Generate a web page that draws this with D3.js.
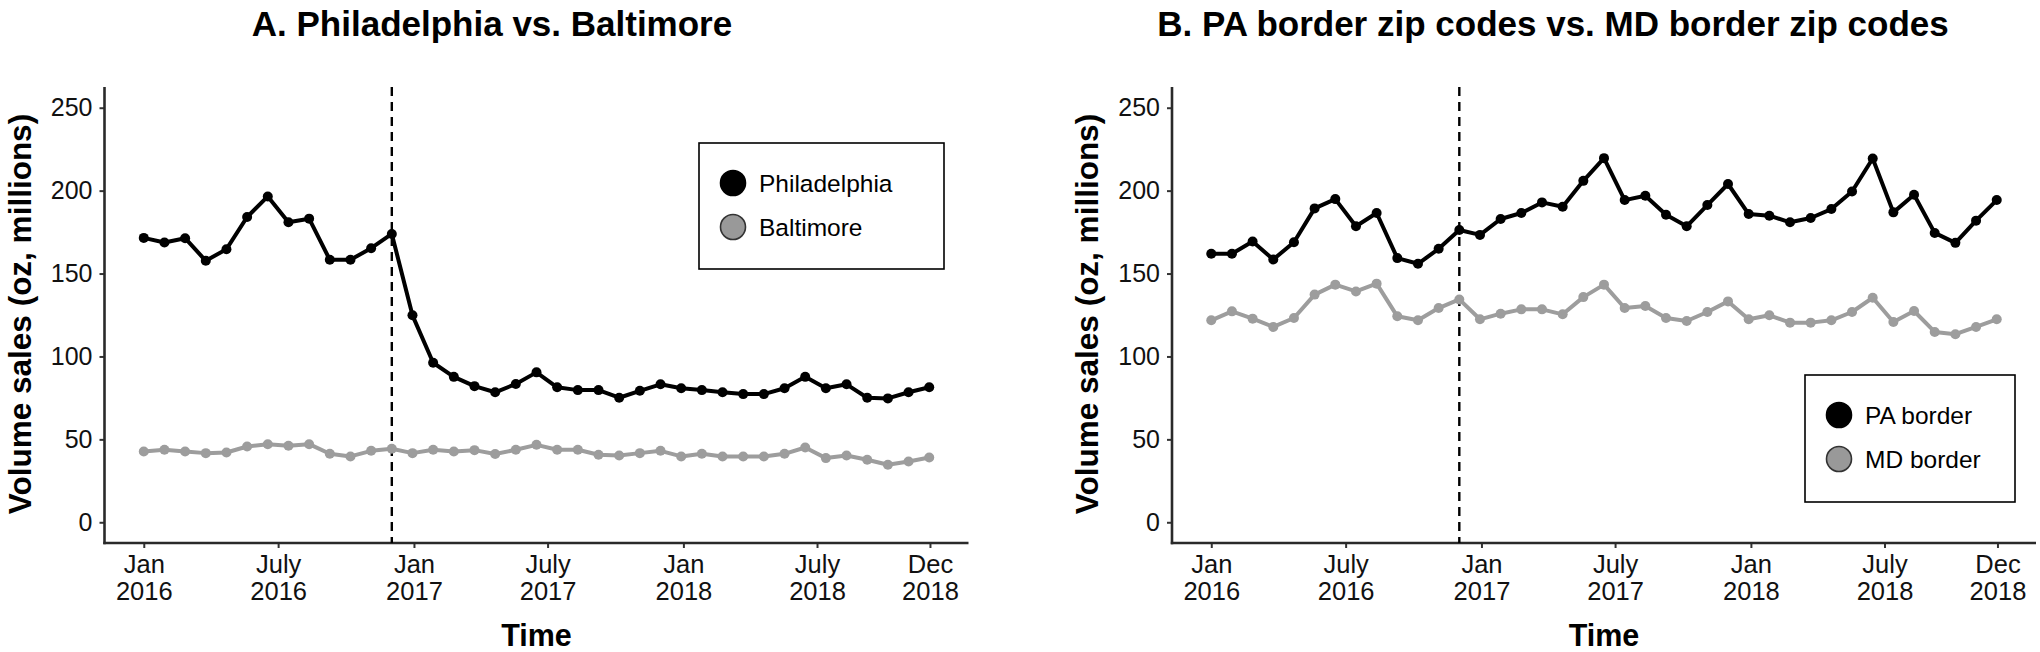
<!DOCTYPE html>
<html>
<head>
<meta charset="utf-8">
<script src="https://cdn.jsdelivr.net/npm/d3@7"></script>
<style>
  html, body { margin: 0; padding: 0; background: #ffffff; }
  svg { display: block; }
  text { font-family: "Liberation Sans", Arial, sans-serif; }
</style>
</head>
<body>
<svg id="chart" width="2040" height="652"></svg>
<script>
// ---------- DATA ----------
const periodDates = [
  "2016-01-01","2016-01-29","2016-02-26","2016-03-25","2016-04-22","2016-05-20","2016-06-17",
  "2016-07-15","2016-08-12","2016-09-09","2016-10-07","2016-11-04","2016-12-02","2016-12-30",
  "2017-01-27","2017-02-24","2017-03-24","2017-04-21","2017-05-19","2017-06-16","2017-07-14",
  "2017-08-11","2017-09-08","2017-10-06","2017-11-03","2017-12-01","2017-12-29","2018-01-26",
  "2018-02-23","2018-03-23","2018-04-20","2018-05-18","2018-06-15","2018-07-13","2018-08-10",
  "2018-09-07","2018-10-05","2018-11-02","2018-11-30"
];
const philadelphia = [171.5,168.7,171.3,157.7,164.7,184.1,196.5,180.9,183.1,158.3,158.3,165.3,173.9,
  124.8,96.2,87.7,82.1,78.4,83.4,90.4,81.4,79.7,79.7,75.1,79.3,83.2,80.8,79.7,78.4,77.3,77.3,80.8,
  87.7,80.8,83.2,75.1,74.7,78.4,81.4];
const baltimore = [42.7,43.7,42.7,41.7,42.1,45.7,47.1,46.1,47.1,41.3,39.7,43.1,44.3,
  41.7,43.7,42.7,43.5,41.2,43.7,46.7,43.7,43.7,40.7,40.3,41.7,43.1,39.7,41.3,39.7,39.7,39.7,41.3,
  45.1,38.7,40.3,37.7,34.7,36.7,39.1];
const paBorder = [161.9,161.9,169.3,158.5,168.9,189.3,194.9,178.5,186.5,159.3,155.9,164.9,176.3,
  173.3,182.9,186.5,192.9,190.3,205.9,219.6,194.3,196.9,185.5,178.5,191.3,204.0,185.9,184.9,180.9,
  183.5,188.9,199.5,219.4,186.9,197.5,174.5,168.5,181.9,194.3];
const mdBorder = [121.8,127.2,122.8,117.8,123.2,137.3,143.3,139.2,143.9,124.2,121.8,129.2,134.4,
  122.4,125.8,128.4,128.4,125.4,135.8,143.3,129.2,130.4,123.2,121.4,126.8,133.2,122.4,124.8,120.4,
  120.4,121.8,126.8,135.4,120.8,127.4,114.8,113.4,117.8,122.4];

const tickDates = ["2016-01-01","2016-07-01","2017-01-01","2017-07-01","2018-01-01","2018-07-01","2018-12-01"];
const tickMonths = ["Jan","July","Jan","July","Jan","July","Dec"];
const tickYears = ["2016","2016","2017","2017","2018","2018","2018"];
const yTicks = [0, 50, 100, 150, 200, 250];
const interventionDate = "2016-12-02";

const panelTitles = ["A. Philadelphia vs. Baltimore", "B. PA border zip codes vs. MD border zip codes"];
const seriesNamesA = ["Philadelphia", "Baltimore"];
const seriesNamesB = ["PA border", "MD border"];
const yAxisTitle = "Volume sales (oz, millions)";
const xAxisTitle = "Time";

// ---------- LAYOUT / STYLE ----------
const parse = d3.timeParse("%Y-%m-%d");
const dates = periodDates.map(parse);
const colors = ["#000000", "#9d9d9d"];
const plotTop = 87, plotBottom = 543;

const panels = [
  { left: 104.5, right: 968.5, title: panelTitles[0], titleX: 492,
    series: [philadelphia, baltimore], names: seriesNamesA,
    legend: { x: 699, y: 143, w: 245, h: 126 } },
  { left: 1172, right: 2036, title: panelTitles[1], titleX: 1553,
    series: [paBorder, mdBorder], names: seriesNamesB,
    legend: { x: 1805, y: 375, w: 210, h: 127 } }
];

const svg = d3.select("#chart");

const tMin = d3.min(dates), tMax = d3.max(dates);
const span = tMax - tMin;
const xDomain = [new Date(+tMin - 0.05 * span), new Date(+tMax + 0.05 * span)];
const yDomain = [-12.5, 262.5];

panels.forEach(p => {
  const g = svg.append("g");
  const x = d3.scaleTime().domain(xDomain).range([p.left, p.right]);
  const y = d3.scaleLinear().domain(yDomain).range([plotBottom, plotTop]);

  // title
  g.append("text")
    .attr("x", p.titleX).attr("y", 36)
    .attr("text-anchor", "middle")
    .attr("font-size", 35).attr("font-weight", "bold")
    .attr("fill", "#000")
    .text(p.title);

  // y axis
  const yAxis = d3.axisLeft(y).tickValues(yTicks).tickSize(5).tickPadding(7);
  const gy = g.append("g").attr("transform", `translate(${p.left},0)`).call(yAxis);
  gy.select(".domain").remove();
  gy.selectAll(".tick line").attr("stroke", "#333").attr("stroke-width", 2);
  gy.selectAll(".tick text").attr("font-size", 25).attr("fill", "#111")
    .attr("font-family", "Liberation Sans, Arial, sans-serif");

  // x axis
  const xAxis = d3.axisBottom(x).tickValues(tickDates.map(parse)).tickSize(5).tickFormat("");
  const gx = g.append("g").attr("transform", `translate(0,${plotBottom})`).call(xAxis);
  gx.select(".domain").remove();
  gx.selectAll(".tick line").attr("stroke", "#333").attr("stroke-width", 2);
  gx.selectAll(".tick").each(function(d, i) {
    const t = d3.select(this).append("text")
      .attr("text-anchor", "middle").attr("font-size", 25.5).attr("fill", "#111")
      .attr("font-family", "Liberation Sans, Arial, sans-serif");
    t.append("tspan").attr("x", 0).attr("y", 30).text(tickMonths[i]);
    t.append("tspan").attr("x", 0).attr("y", 57).text(tickYears[i]);
  });

  // axis lines
  g.append("line").attr("x1", p.left).attr("x2", p.left).attr("y1", plotTop).attr("y2", plotBottom + 1.2)
    .attr("stroke", "#2a2a2a").attr("stroke-width", 2.6);
  g.append("line").attr("x1", p.left - 1.2).attr("x2", p.right).attr("y1", plotBottom).attr("y2", plotBottom)
    .attr("stroke", "#2a2a2a").attr("stroke-width", 2.6);

  // axis titles
  g.append("text")
    .attr("transform", `translate(${p.left - 74},${314}) rotate(-90)`)
    .attr("text-anchor", "middle").attr("font-size", 31.5).attr("font-weight", "bold")
    .attr("fill", "#000").text(yAxisTitle);
  g.append("text")
    .attr("x", (p.left + p.right) / 2).attr("y", 646)
    .attr("text-anchor", "middle").attr("font-size", 30.5).attr("font-weight", "bold")
    .attr("fill", "#000").text(xAxisTitle);

  // intervention line
  const xi = x(parse(interventionDate));
  g.append("line").attr("x1", xi).attr("x2", xi).attr("y1", plotTop).attr("y2", plotBottom)
    .attr("stroke", "#000").attr("stroke-width", 2.4).attr("stroke-dasharray", "9,6");

  // series (gray first so black is on top)
  const line = d3.line().x((d, i) => x(dates[i])).y(d => y(d));
  [1, 0].forEach(si => {
    const vals = p.series[si];
    g.append("path").datum(vals)
      .attr("fill", "none").attr("stroke", colors[si]).attr("stroke-width", 4)
      .attr("stroke-linejoin", "round").attr("d", line);
    g.selectAll(null).data(vals).enter().append("circle")
      .attr("cx", (d, i) => x(dates[i])).attr("cy", d => y(d)).attr("r", 5)
      .attr("fill", colors[si]);
  });

  // legend
  const L = p.legend;
  const lg = g.append("g").attr("transform", `translate(${L.x},${L.y})`);
  lg.append("rect").attr("width", L.w).attr("height", L.h)
    .attr("fill", "#fff").attr("stroke", "#000").attr("stroke-width", 1.6);
  p.names.forEach((name, i) => {
    const cy = 40 + i * 44;
    lg.append("circle").attr("cx", 34).attr("cy", cy).attr("r", 12.5)
      .attr("fill", i === 0 ? "#000" : "#999999")
      .attr("stroke", i === 0 ? "#000" : "#333").attr("stroke-width", 1.6);
    lg.append("text").attr("x", 60).attr("y", cy + 9)
      .attr("font-size", 24.5).attr("fill", "#000").text(name);
  });
});
</script>
</body>
</html>
